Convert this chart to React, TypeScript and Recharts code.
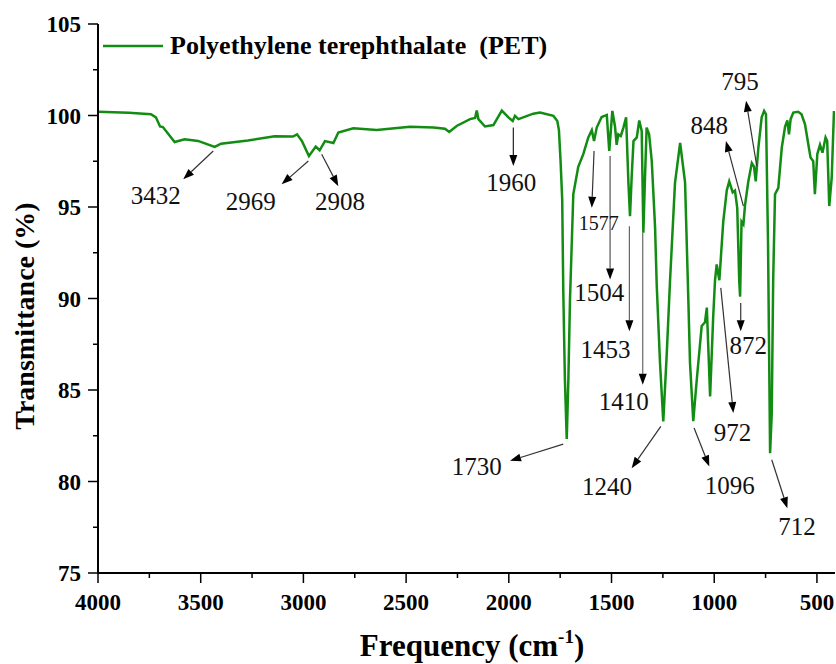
import React from 'react';
import {
  LineChart,
  Line,
  XAxis,
  YAxis,
  Legend,
  ReferenceLine,
  ReferenceDot,
} from 'recharts';

// FTIR spectrum of PET
const wavenumber = [
  4000, 3850, 3742, 3718, 3698, 3684, 3627, 3578, 3513, 3432, 3401, 3270, 3140, 3051, 3031, 3007,
  2973, 2940, 2921, 2895, 2854, 2830, 2757, 2643, 2481, 2367, 2311, 2290, 2254, 2189, 2164, 2156,
  2148, 2116, 2075, 2034, 2002, 1981, 1970, 1953, 1881, 1848, 1783, 1764, 1756, 1748, 1740, 1735,
  1727, 1718, 1710, 1702, 1686, 1662, 1637, 1613, 1596, 1585, 1572, 1548, 1523, 1511, 1496, 1483,
  1475, 1467, 1455, 1442, 1429, 1418, 1410, 1402, 1393, 1377, 1365, 1353, 1345, 1337, 1329, 1317,
  1304, 1288, 1280, 1264, 1248, 1231, 1215, 1191, 1166, 1142, 1126, 1118, 1102, 1085, 1061, 1045,
  1036, 1020, 1005, 996, 988, 975, 956, 939, 927, 910, 899, 888, 878, 874, 867, 858,
  850, 834, 817, 806, 798, 785, 769, 757, 748, 738, 728, 720, 713, 704, 688, 671,
  655, 644, 636, 628, 615, 591, 575, 558, 542, 531, 518, 510, 498, 485, 473, 458,
  450, 440, 428, 417,
];
const transmittance = [
  100.2, 100.15, 100.07, 99.9, 99.4, 99.37, 98.55, 98.7, 98.61, 98.28, 98.46, 98.64, 98.86, 98.85, 98.97, 98.6,
  97.79, 98.3, 98.1, 98.6, 98.5, 99.07, 99.3, 99.21, 99.39, 99.34, 99.28, 99.1, 99.43, 99.8, 99.87, 100.27,
  99.8, 99.4, 99.48, 100.27, 99.9, 99.7, 99.98, 99.8, 100.1, 100.16, 99.98, 99.7, 99.2, 97.5, 95.4, 90.5,
  85.6, 82.32, 85.6, 90.0, 95.7, 97.2, 97.9, 98.8, 99.2, 98.6, 99.34, 99.92, 100.03, 98.06, 100.25, 99.4,
  98.4, 98.97, 98.88, 99.34, 99.9, 96.4, 94.5, 96.6, 98.6, 98.8, 99.73, 99.16, 93.6, 96.6, 99.34, 98.97,
  97.5, 93.9, 90.76, 86.5, 83.28, 87.0, 91.0, 96.3, 98.5, 96.35, 89.94, 86.5, 83.3, 85.56, 88.5, 88.7,
  89.5, 84.65, 89.0, 91.0, 91.86, 91.0, 94.2, 95.9, 96.4, 95.8, 95.9, 94.96, 90.9, 90.1, 94.2, 94.05,
  95.1, 96.4, 97.4, 97.2, 96.4, 98.25, 99.9, 100.25, 100.07, 93.0, 81.55, 83.7, 91.0, 95.7, 96.05, 98.25,
  99.4, 99.73, 98.97, 99.8, 100.16, 100.2, 100.07, 99.52, 98.43, 97.7, 97.5, 95.7, 97.9, 98.4, 97.97, 98.8,
  98.6, 95.05, 96.6, 100.25,
];

const xMajorTicks = [4000, 3500, 3000, 2500, 2000, 1500, 1000, 500];
const xMinorTicks = [3750, 3250, 2750, 2250, 1750, 1250, 750];
const yMajorTicks = [75, 80, 85, 90, 95, 100, 105];
const yMinorTicks = [77.5, 82.5, 87.5, 92.5, 97.5, 102.5];

// peak labels: text at (wavenumber, transmittance)
const peakLabels = [
  { text: '3432', x: 3719, y: 95.14, size: 25 },
  { text: '2969', x: 3256, y: 94.83, size: 25 },
  { text: '2908', x: 2822, y: 94.83, size: 25 },
  { text: '1960', x: 1988, y: 95.87, size: 25 },
  { text: '1577', x: 1562, y: 93.77, size: 20 },
  { text: '1504', x: 1560, y: 89.85, size: 25 },
  { text: '1453', x: 1529, y: 86.75, size: 25 },
  { text: '1410', x: 1441, y: 83.88, size: 25 },
  { text: '848', x: 1024, y: 98.97, size: 25 },
  { text: '795', x: 874, y: 101.4, size: 25 },
  { text: '1730', x: 2156, y: 80.36, size: 25 },
  { text: '1240', x: 1522, y: 79.27, size: 25 },
  { text: '1096', x: 925, y: 79.31, size: 25 },
  { text: '972', x: 911, y: 82.19, size: 25 },
  { text: '872', x: 834, y: 86.99, size: 25 },
  { text: '712', x: 597, y: 77.08, size: 25 },
];

// arrows from (x1, y1) to the head at (x2, y2)
const peakArrows = [
  { x1: 3439, y1: 98.06, x2: 3585, y2: 96.51, color: '#333' },
  { x1: 2976, y1: 97.51, x2: 3106, y2: 96.24, color: '#333' },
  { x1: 2911, y1: 97.88, x2: 2830, y2: 96.14, color: '#333' },
  { x1: 1978, y1: 99.34, x2: 1978, y2: 97.24, color: '#222' },
  { x1: 1585, y1: 98.06, x2: 1596, y2: 94.96, color: '#333' },
  { x1: 1507, y1: 97.79, x2: 1507, y2: 91.04, color: '#555' },
  { x1: 1413, y1: 93.95, x2: 1413, y2: 88.21, color: '#666' },
  { x1: 1348, y1: 93.59, x2: 1348, y2: 85.29, color: '#666' },
  { x1: 858, y1: 95.05, x2: 943, y2: 98.61, color: '#333' },
  { x1: 793, y1: 97.24, x2: 845, y2: 100.8, color: '#333' },
  { x1: 1735, y1: 82.04, x2: 1994, y2: 81.13, color: '#333' },
  { x1: 1260, y1: 83.01, x2: 1402, y2: 80.73, color: '#333' },
  { x1: 1098, y1: 82.92, x2: 1024, y2: 80.82, color: '#333' },
  { x1: 968, y1: 90.58, x2: 907, y2: 83.74, color: '#333' },
  { x1: 871, y1: 89.76, x2: 871, y2: 88.21, color: '#333' },
  { x1: 720, y1: 81.19, x2: 644, y2: 78.54, color: '#333' },
];

const spectrum = wavenumber.map((v, i) => ({ v, t: transmittance[i] }));

const GREEN = '#128c12';
const SERIF = '"Liberation Serif", "Times New Roman", serif';

const XTick = (props: any) => {
  const { x, y, payload } = props;
  const major = xMajorTicks.includes(payload.value);
  return (
    <g>
      <line x1={x} y1={y} x2={x} y2={y + (major ? 10 : 5)} stroke="#000" strokeWidth={1.5} />
      {major && (
        <text
          x={x}
          y={y + 37}
          textAnchor="middle"
          style={{ fontFamily: SERIF, fontWeight: 'bold', fontSize: 23 }}
          fill="#000"
        >
          {payload.value}
        </text>
      )}
    </g>
  );
};

const YTick = (props: any) => {
  const { x, y, payload } = props;
  const major = yMajorTicks.includes(payload.value);
  return (
    <g>
      <line x1={x - (major ? 10 : 5)} y1={y} x2={x} y2={y} stroke="#000" strokeWidth={1.5} />
      {major && (
        <text
          x={x - 17}
          y={y}
          dy="0.35em"
          textAnchor="end"
          style={{ fontFamily: SERIF, fontWeight: 'bold', fontSize: 23 }}
          fill="#000"
        >
          {payload.value}
        </text>
      )}
    </g>
  );
};

const Arrow = (props: any) => {
  const { x1, y1, x2, y2, color } = props;
  const a = Math.atan2(y2 - y1, x2 - x1);
  const len = 11;
  const w = 4;
  const bx = x2 - len * Math.cos(a);
  const by = y2 - len * Math.sin(a);
  const px = -Math.sin(a) * w;
  const py = Math.cos(a) * w;
  return (
    <g>
      <line x1={x1} y1={y1} x2={bx} y2={by} stroke={color} strokeWidth={1.2} />
      <polygon points={`${x2},${y2} ${bx + px},${by + py} ${bx - px},${by - py}`} fill="#000" />
    </g>
  );
};

const PeakLegend = () => (
  <div
    style={{
      display: 'flex',
      alignItems: 'center',
      fontFamily: SERIF,
      fontWeight: 'bold',
      fontSize: 26,
      lineHeight: '26px',
      whiteSpace: 'pre',
      color: '#000',
    }}
  >
    <svg width={60} height={6}>
      <line x1={0} y1={3} x2={60} y2={3} stroke={GREEN} strokeWidth={2.5} />
    </svg>
    <span style={{ marginLeft: 7 }}>Polyethylene terephthalate  (PET)</span>
  </div>
);

export default function App() {
  return (
    <div style={{ position: 'absolute', left: 0, top: 0, width: 836, height: 664, background: '#fff' }}>
      <LineChart width={836} height={664} data={spectrum} margin={{ top: 24, right: 1, bottom: 0, left: 0 }}>
        <XAxis
          dataKey="v"
          type="number"
          domain={[412, 4000]}
          reversed
          allowDataOverflow
          ticks={[...xMajorTicks, ...xMinorTicks]}
          interval={0}
          tickSize={0}
          tickMargin={0}
          tick={<XTick />}
          axisLine={{ stroke: '#000', strokeWidth: 2 }}
          height={91}
          label={{
            content: () => (
              <text
                x={472}
                y={656}
                textAnchor="middle"
                style={{ fontFamily: SERIF, fontWeight: 'bold', fontSize: 31 }}
                fill="#000"
              >
                Frequency (cm
                <tspan dy={-13} style={{ fontSize: 19 }}>-1</tspan>
                <tspan dy={13}>)</tspan>
              </text>
            ),
          }}
        />
        <XAxis xAxisId="top" orientation="top" type="number" domain={[412, 4000]} reversed height={0} tick={false} tickLine={false} axisLine={{ stroke: '#000', strokeWidth: 2 }} />
        <YAxis
          type="number"
          domain={[75, 105]}
          allowDataOverflow
          ticks={[...yMajorTicks, ...yMinorTicks]}
          interval={0}
          tickSize={0}
          tickMargin={0}
          tick={<YTick />}
          axisLine={{ stroke: '#000', strokeWidth: 2 }}
          width={98}
          label={{
            content: () => (
              <text
                x={34}
                y={316}
                transform="rotate(-90 34 316)"
                textAnchor="middle"
                style={{ fontFamily: SERIF, fontWeight: 'bold', fontSize: 28 }}
                fill="#000"
              >
                Transmittance (%)
              </text>
            ),
          }}
        />
        <YAxis yAxisId="right" orientation="right" type="number" domain={[75, 105]} width={0} tick={false} tickLine={false} axisLine={{ stroke: '#000', strokeWidth: 2 }} />
        <Legend
          layout="vertical"
          align="center"
          verticalAlign="middle"
          content={() => <PeakLegend />}
          wrapperStyle={{ top: 33, left: 103, width: 'auto', height: 'auto' }}
        />
        <Line
          dataKey="t"
          type="linear"
          stroke={GREEN}
          strokeWidth={2.5}
          dot={false}
          isAnimationActive={false}
          legendType="line"
          name="Polyethylene terephthalate  (PET)"
        />
        {peakArrows.map((a, i) => (
          <ReferenceLine
            key={`arrow-${i}`}
            segment={[
              { x: a.x1, y: a.y1 },
              { x: a.x2, y: a.y2 },
            ]}
            stroke={a.color}
            shape={(p: any) => <Arrow {...p} color={a.color} />}
          />
        ))}
        {peakLabels.map((l) => (
          <ReferenceDot
            key={`label-${l.text}`}
            x={l.x}
            y={l.y}
            r={0}
            shape={(p: any) => (
              <text
                x={p.cx}
                y={p.cy}
                textAnchor="middle"
                style={{ fontFamily: SERIF, fontSize: l.size, fontWeight: 'normal' }}
                fill="#111"
              >
                {l.text}
              </text>
            )}
          />
        ))}
      </LineChart>
    </div>
  );
}
